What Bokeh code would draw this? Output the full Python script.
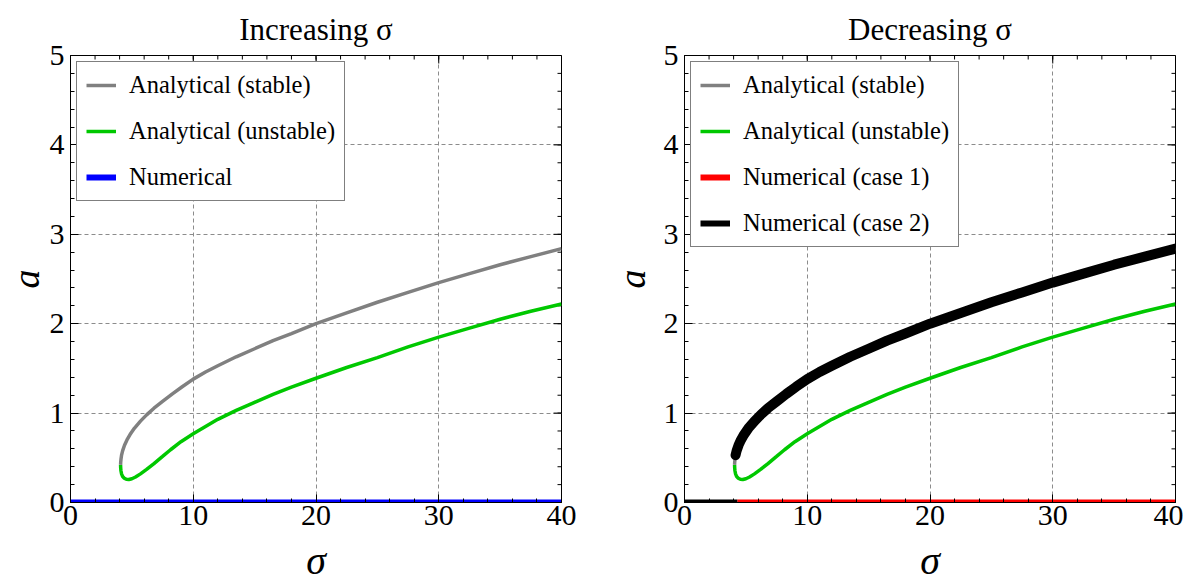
import math
from bokeh.plotting import figure
from bokeh.models import Range1d, Legend, LegendItem, FixedTicker
from bokeh.layouts import row
from bokeh.embed import file_html
from bokeh.resources import INLINE

# ---------------- data ----------------
x_ticks = [0, 10, 20, 30, 40]
y_ticks = [0, 1, 2, 3, 4, 5]
x_minor = [v * 2 for v in range(21)]
y_minor = [round(v * 0.2, 1) for v in range(26)]

stable_sigma = [4.08, 4.09, 4.11, 4.16, 4.25, 4.4, 4.6, 4.85, 5.2, 5.7, 6.2, 6.8, 7.5, 8.3, 9.1,
                10.0, 11.0, 12.0, 13.5, 15.0, 16.5, 18.0, 20.0, 22.5, 25.0, 27.5, 30.0, 32.5,
                35.0, 37.5, 40.0]
stable_a = [0.42, 0.45, 0.48, 0.53, 0.58, 0.64, 0.70, 0.76, 0.83, 0.91, 0.98, 1.055, 1.13, 1.215,
            1.295, 1.38, 1.46, 1.53, 1.63, 1.72, 1.81, 1.89, 2.00, 2.12, 2.24, 2.35, 2.46, 2.56,
            2.66, 2.75, 2.84]

unstable_sigma = [4.08, 4.09, 4.11, 4.16, 4.25, 4.38, 4.55, 4.75, 5.0, 5.3, 5.7, 6.2, 6.8, 7.5,
                  8.15, 9.0, 10.0, 11.0, 12.0, 13.5, 15.0, 16.5, 18.0, 20.0, 22.5, 25.0, 27.5,
                  30.0, 32.5, 35.0, 37.5, 40.0]
unstable_a = [0.42, 0.385, 0.355, 0.32, 0.29, 0.272, 0.26, 0.257, 0.266, 0.285, 0.32, 0.37, 0.435,
              0.515, 0.59, 0.68, 0.77, 0.85, 0.93, 1.03, 1.12, 1.21, 1.29, 1.39, 1.51, 1.62, 1.74,
              1.85, 1.95, 2.05, 2.14, 2.22]

# increasing sigma: numerical solution stays on the trivial branch
num_inc_sigma = [0, 40]
num_inc_a = [0, 0]

# decreasing sigma
case1_sigma = [4.3, 40]
case1_a = [0, 0]
case2_zero_sigma = [0, 4.3]
case2_zero_a = [0, 0]
case2_sigma = stable_sigma[3:]
case2_a = stable_a[3:]

GRAY = "#808080"
GREEN = "#00c800"
BLUE = "#0000ff"
RED = "#ff0000"
SERIF = "Liberation Serif"


def make_fig(width, border_left, border_right, title, ylabel_standoff):
    p = figure(width=width, height=586, output_backend="svg", toolbar_location=None,
               x_range=Range1d(x_ticks[0], x_ticks[-1]), y_range=Range1d(y_ticks[0], y_ticks[-1]),
               min_border_left=border_left, min_border_right=border_right,
               min_border_top=54, min_border_bottom=84,
               background_fill_color="white", border_fill_color="white")
    p.outline_line_color = "black"
    p.outline_line_width = 1

    p.title.text = title
    p.title.align = "center"
    p.title.text_font = SERIF
    p.title.text_font_size = "31px"
    p.title.text_font_style = "normal"
    p.title.text_color = "black"
    p.title.standoff = 18

    xt = FixedTicker(ticks=x_ticks, minor_ticks=x_minor)
    yt = FixedTicker(ticks=y_ticks, minor_ticks=y_minor)

    for ax, tk in ((p.xaxis[0], xt), (p.yaxis[0], yt)):
        ax.ticker = tk
        ax.major_tick_in = 8
        ax.major_tick_out = 0
        ax.minor_tick_in = 4
        ax.minor_tick_out = 0
        ax.axis_line_color = "black"
        ax.major_tick_line_color = "black"
        ax.minor_tick_line_color = "black"
        ax.major_label_text_font = SERIF
        ax.major_label_text_font_size = "30px"
        ax.major_label_text_color = "black"
        ax.axis_label_text_font = SERIF
        ax.axis_label_text_font_style = "italic"
        ax.axis_label_text_color = "black"

    p.xaxis[0].axis_label = "σ"
    p.xaxis[0].axis_label_text_font_size = "40px"
    p.xaxis[0].major_label_standoff = 3
    p.xaxis[0].axis_label_standoff = 10
    p.yaxis[0].axis_label = "a"
    p.yaxis[0].axis_label_text_font_size = "38px"
    p.yaxis[0].major_label_standoff = 6
    p.yaxis[0].axis_label_standoff = ylabel_standoff

    # inward frame ticks on the top and right edges
    top, right = y_ticks[-1], x_ticks[-1]
    p.ray(x=x_ticks, y=[top] * len(x_ticks), length=8, length_units="screen",
          angle=-math.pi / 2, line_color="black", line_width=1)
    p.ray(x=x_minor, y=[top] * len(x_minor), length=4, length_units="screen",
          angle=-math.pi / 2, line_color="black", line_width=1)
    p.ray(x=[right] * len(y_ticks), y=y_ticks, length=8, length_units="screen",
          angle=math.pi, line_color="black", line_width=1)
    p.ray(x=[right] * len(y_minor), y=y_minor, length=4, length_units="screen",
          angle=math.pi, line_color="black", line_width=1)

    p.xgrid.ticker = xt
    p.ygrid.ticker = yt
    for g in (p.xgrid[0], p.ygrid[0]):
        g.grid_line_color = "#8c8c8c"
        g.grid_line_dash = "4 3"
        g.grid_line_width = 1
    return p


def style_legend(items):
    return Legend(items=items, location="top_left", margin=6, padding=9,
                  spacing=18, label_height=24, glyph_height=24, glyph_width=30,
                  label_standoff=13, label_text_font=SERIF, label_text_font_size="24.5px",
                  label_text_color="black", border_line_color="black", border_line_width=1,
                  background_fill_color="white", background_fill_alpha=1.0)


# ---------------- left: increasing sigma ----------------
p1 = make_fig(600, 70, 39, "Increasing σ", 0)
r_s1 = p1.line(stable_sigma, stable_a, line_color=GRAY, line_width=3.5)
r_u1 = p1.line(unstable_sigma, unstable_a, line_color=GREEN, line_width=3.5)
r_n1 = p1.line(num_inc_sigma, num_inc_a, line_color=BLUE, line_width=6)
p1.add_layout(style_legend([
    LegendItem(label="Analytical (stable)", renderers=[r_s1]),
    LegendItem(label="Analytical (unstable)", renderers=[r_u1]),
    LegendItem(label="Numerical", renderers=[r_n1]),
]), "center")

# ---------------- right: decreasing sigma ----------------
p2 = make_fig(583, 84, 8, "Decreasing σ", 8)
r_s2 = p2.line(stable_sigma, stable_a, line_color=GRAY, line_width=3.5)
r_u2 = p2.line(unstable_sigma, unstable_a, line_color=GREEN, line_width=3.5)
r_c1 = p2.line(case1_sigma, case1_a, line_color=RED, line_width=6)
r_c2z = p2.line(case2_zero_sigma, case2_zero_a, line_color="black", line_width=6)
p2.line(case2_sigma, case2_a, line_color="black", line_width=10, line_cap="round",
        line_join="round")
p2.add_layout(style_legend([
    LegendItem(label="Analytical (stable)", renderers=[r_s2]),
    LegendItem(label="Analytical (unstable)", renderers=[r_u2]),
    LegendItem(label="Numerical (case 1)", renderers=[r_c1]),
    LegendItem(label="Numerical (case 2)", renderers=[r_c2z]),
]), "center")

layout = row(p1, p2)
open("out.html", "w").write(file_html(layout, INLINE))
